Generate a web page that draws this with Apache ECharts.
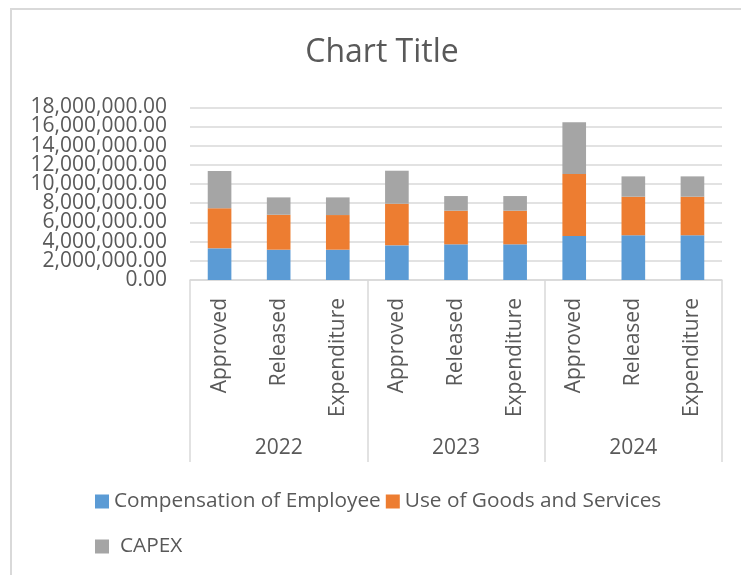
<!DOCTYPE html>
<html>
<head>
<meta charset="utf-8">
<script src="https://cdn.jsdelivr.net/npm/echarts@6/dist/echarts.min.js"></script>
<style>
  html, body { margin: 0; padding: 0; background: #fff; }
  #chart { width: 741px; height: 575px; }
</style>
</head>
<body>
<div id="chart"></div>
<script>
// Budget stages per year
const categories = ['Approved', 'Released', 'Expenditure', 'Approved', 'Released', 'Expenditure', 'Approved', 'Released', 'Expenditure'];
const years = ['2022', '2023', '2024'];

// Stacked amounts per stage
const compensation = [3300000, 3160000, 3160000, 3610000, 3720000, 3720000, 4580000, 4660000, 4660000];
const goodsServices = [4170000, 3640000, 3610000, 4340000, 3500000, 3500000, 6460000, 4020000, 4020000];
const capex = [3880000, 1810000, 1840000, 3440000, 1530000, 1530000, 5390000, 2120000, 2120000];

const yTicks = { min: 0, max: 18000000, interval: 2000000 };

const FONT = 'Open Sans';
const TEXT = '#595959';
const LINE = '#D9D9D9';

const fmt = v => v.toLocaleString('en-US', { minimumFractionDigits: 2, maximumFractionDigits: 2 });

// The tick labels sit closer than their text height, so they are split over two
// overlaid value axes (alternate ticks each) to keep every label visible.
const yLabelBase = {
  margin: 23,
  fontFamily: FONT,
  fontSize: 21,
  color: TEXT
};

const chart = echarts.init(document.getElementById('chart'));

chart.setOption({
  animation: false,
  backgroundColor: '#fff',
  title: {
    text: 'Chart Title',
    left: 377,
    textAlign: 'center',
    top: 32,
    textStyle: { fontFamily: FONT, fontSize: 32, fontWeight: 'normal', color: TEXT }
  },
  graphic: [{
    type: 'rect',
    shape: { x: 11, y: 9, width: 800, height: 700 },
    style: { fill: 'none', stroke: LINE, lineWidth: 2 },
    silent: true
  }],
  legend: [{
    data: ['Compensation of Employee', 'Use of Goods and Services'],
    left: 90,
    top: 486,
    itemWidth: 14,
    itemHeight: 14,
    itemGap: 5,
    icon: 'rect',
    textStyle: { fontFamily: FONT, fontSize: 20.8, color: TEXT }
  }, {
    data: ['CAPEX'],
    left: 90,
    top: 531,
    itemWidth: 14,
    itemHeight: 14,
    icon: 'rect',
    textStyle: { fontFamily: FONT, fontSize: 20.8, color: TEXT, padding: [0, 0, 0, 6] }
  }],
  grid: { left: 190, right: 19, top: 107.3, bottom: 295, containLabel: false },
  xAxis: [{
    type: 'category',
    data: categories,
    axisLine: { show: true, lineStyle: { color: LINE, width: 1.5 } },
    axisTick: { show: false },
    axisLabel: {
      rotate: 90,
      margin: 18,
      interval: 0,
      fontFamily: FONT,
      fontSize: 21,
      color: TEXT
    }
  }, {
    type: 'category',
    data: years,
    position: 'bottom',
    axisLine: { show: false },
    axisTick: { show: true, length: 182, interval: 0, lineStyle: { color: LINE, width: 1.5 } },
    axisLabel: {
      margin: 158,
      interval: 0,
      fontFamily: FONT,
      fontSize: 21,
      color: TEXT
    }
  }],
  yAxis: [{
    type: 'value',
    position: 'left',
    min: yTicks.min,
    max: yTicks.max,
    interval: yTicks.interval,
    axisLine: { show: false },
    axisTick: { show: false },
    splitLine: { show: true, showMinLine: true, showMaxLine: true, lineStyle: { color: LINE, width: 1.5 } },
    axisLabel: Object.assign({}, yLabelBase, {
      showMinLabel: true,
      showMaxLabel: false,
      formatter: v => (Math.round(v / yTicks.interval) % 2 === 0 ? fmt(v) : '')
    })
  }, {
    type: 'value',
    position: 'left',
    offset: 0,
    min: yTicks.min,
    max: yTicks.max,
    interval: yTicks.interval,
    axisLine: { show: false },
    axisTick: { show: false },
    splitLine: { show: false },
    axisLabel: Object.assign({}, yLabelBase, {
      showMinLabel: false,
      showMaxLabel: true,
      formatter: v => (Math.round(v / yTicks.interval) % 2 === 1 ? fmt(v) : '')
    })
  }],
  series: [{
    name: 'Compensation of Employee',
    type: 'bar',
    stack: 'total',
    barWidth: '40%',
    data: compensation,
    itemStyle: { color: '#5B9BD5' }
  }, {
    name: 'Use of Goods and Services',
    type: 'bar',
    stack: 'total',
    data: goodsServices,
    itemStyle: { color: '#ED7D31' }
  }, {
    name: 'CAPEX',
    type: 'bar',
    stack: 'total',
    data: capex,
    itemStyle: { color: '#A5A5A5' }
  }]
});
</script>
</body>
</html>
